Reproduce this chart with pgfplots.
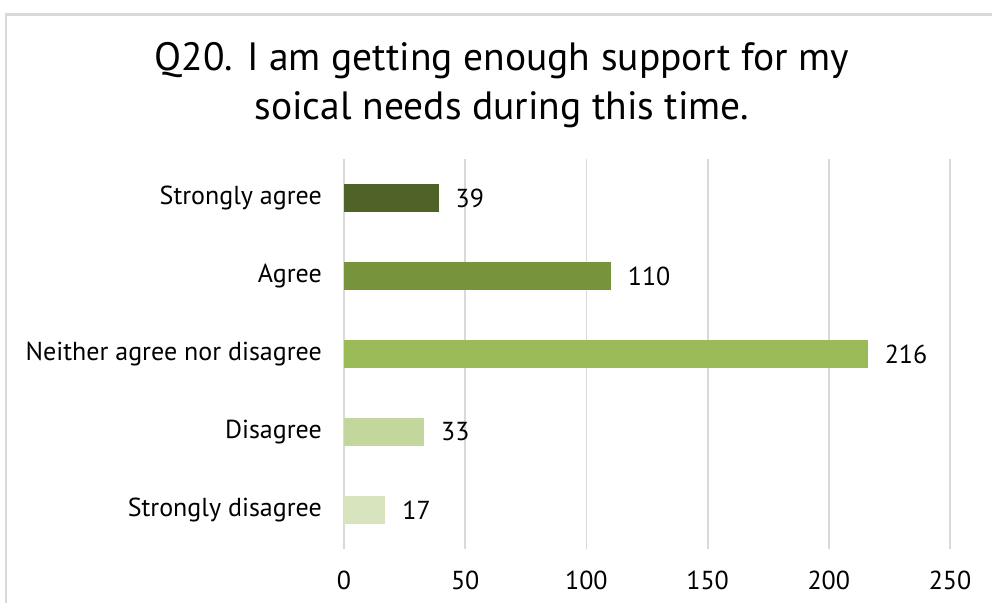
\documentclass[border=0pt]{standalone}
\usepackage{pgfplots}
\pgfplotsset{compat=1.18}
\usepackage{fontspec}
\setmainfont{PT Sans}
\definecolor{cSA}{HTML}{4F6228}
\definecolor{cA}{HTML}{77933C}
\definecolor{cN}{HTML}{9BBB59}
\definecolor{cD}{HTML}{C3D69B}
\definecolor{cSD}{HTML}{D7E4BD}
\definecolor{gridgray}{HTML}{D9D9D9}
\begin{document}
\begin{tikzpicture}
\path (0bp,0bp) rectangle (992bp,603bp);
\begin{axis}[
  at={(344bp,54bp)}, anchor=south west,
  scale only axis, width=606bp, height=390bp,
  xmin=0, xmax=250, ymin=-0.5, ymax=4.5,
  xbar, bar width=28bp,
  xtick={0,50,...,250},
  ytick={0,1,2,3,4},
  yticklabels={Strongly disagree, Disagree, Neither agree nor disagree, Agree, Strongly agree},
  xmajorgrids, grid style={color=gridgray, line width=1.8bp},
  axis line style={draw=none},
  major tick length=0pt,
  /pgf/number format/assume math mode=true,
  tick label style={font=\fontsize{26bp}{30bp}\selectfont, text=black},
  yticklabel style={inner sep=0pt, xshift=-22bp},
  xticklabel style={inner sep=0pt, yshift=-22bp},
  nodes near coords,
  every node near coord/.append style={font=\fontsize{26bp}{30bp}\selectfont, anchor=west, inner sep=0pt, xshift=17bp, text=black},
  clip=false,
]
\addplot[fill=cSD, draw=none, bar shift=0pt] coordinates {(17,0)};
\addplot[fill=cD, draw=none, bar shift=0pt] coordinates {(33,1)};
\addplot[fill=cN, draw=none, bar shift=0pt] coordinates {(216,2)};
\addplot[fill=cA, draw=none, bar shift=0pt] coordinates {(110,3)};
\addplot[fill=cSA, draw=none, bar shift=0pt] coordinates {(39,4)};
\end{axis}
\begin{pgfinterruptboundingbox}
\draw[color=gridgray, line width=2.5bp] (6bp,-10bp) -- (6bp,588.5bp) -- (1000bp,588.5bp);
\end{pgfinterruptboundingbox}
\node[align=center, font=\fontsize{39.5bp}{49bp}\selectfont, anchor=base] at (502bp,483bp) {Q20. I am getting enough support for my\\soical needs during this time.};
\end{tikzpicture}
\end{document}
